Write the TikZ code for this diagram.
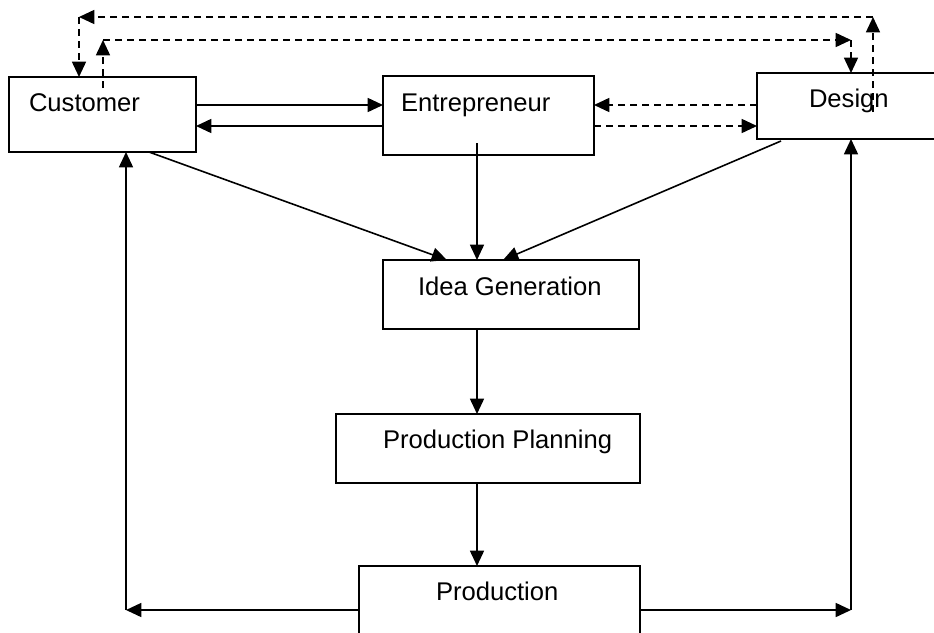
\documentclass[tikz,border=0pt]{standalone}
\usepackage{fontspec}
\setmainfont{Liberation Sans}
\usetikzlibrary{arrows.meta,calc}
\begin{document}
\begin{tikzpicture}[x=0.75pt,y=-0.75pt,
  box/.style 2 args={draw,line width=1.2pt,inner sep=0pt,outer sep=0pt,
    minimum width=#1,minimum height=#2},
  txt/.style={anchor=base west,inner sep=0pt,outer sep=0pt,
    font=\fontsize{19.2pt}{23pt}\selectfont},
  arr/.style={line width=1.2pt,-{Triangle[length=11.5pt,width=10.5pt]}},
  dsh/.style={dash pattern=on 5.5pt off 3.5pt}]
  \useasboundingbox (0,0) rectangle (934,632);
  \clip (0,0) rectangle (934,632);

  % boxes
  \node[box={140.25pt}{56.25pt}] (cust) at (102.5,114.5) {};
  \node[box={158.25pt}{59.25pt}] (ent)  at (488.5,115.5) {};
  \node[box={141pt}{49.5pt}]     (des)  at (851,106) {};
  \node[box={192pt}{51.75pt}]    (idea) at (511,294.5) {};
  \node[box={228pt}{51.75pt}]    (plan) at (488,448.5) {};
  \node[box={210.75pt}{70.5pt}]  (prod) at (499.5,613) {};

  % labels
  \node[txt] (custT) at (29,111)    {Customer};
  \node[txt] (entT)  at (401,111.5) {Entrepreneur};
  \node[txt] (desT)  at (809,107)   {Design};
  \node[txt] (ideaT) at (418,295)   {Idea Generation};
  \node[txt] (planT) at (383,448)   {Production Planning};
  \node[txt] (prodT) at (436,600)   {Production};

  % helper points for the routed connectors
  \coordinate (rowA) at (0,105);
  \coordinate (rowB) at (0,126);
  \coordinate (spine) at (477,0);
  \coordinate (base) at (0,610);
  \coordinate (desTap) at (873,112);
  \coordinate (outNE) at (873,17);
  \coordinate (outNW) at (79,17);
  \coordinate (custTap) at (103,88);
  \coordinate (inNW) at (103,40);
  \coordinate (inNE) at (851,40);
  \coordinate (entTap) at (477,143);
  \coordinate (cL) at (126,610);
  \coordinate (cR) at (851,610);

  % customer <-> entrepreneur
  \draw[arr] (cust.east |- rowA) -- (ent.west |- rowA);
  \draw[arr] (ent.west |- rowB) -- (cust.east |- rowB);
  % design <-> entrepreneur
  \draw[arr,dsh] (des.west |- rowA) -- (ent.east |- rowA);
  \draw[arr,dsh] (ent.east |- rowB) -- (des.west |- rowB);

  % outer loop: design -> customer
  \draw[arr,dsh] (desTap) -- (outNE);
  \draw[arr,dsh] (outNE) -- (outNW);
  \draw[arr,dsh] (outNW) -- (outNW |- cust.north);
  % inner loop: customer -> design
  \draw[arr,dsh] (custTap) -- (inNW);
  \draw[arr,dsh] (inNW) -- (inNE);
  \draw[arr,dsh] (inNE) -- (inNE |- des.north);

  % inputs to idea generation
  \draw[arr] ($(cust.south west)+(140,0)$) -- ($(idea.north west)+(64,0)$);
  \draw[arr] (entTap) -- (entTap |- idea.north);
  \draw[arr] ($(des.south west)+(24,2)$) -- ($(idea.north west)+(120,0)$);

  % main chain
  \draw[arr] (spine |- idea.south) -- (spine |- plan.north);
  \draw[arr] (spine |- plan.south) -- (spine |- prod.north);

  % feedback from production
  \draw[arr] (prod.west |- base) -- (cL);
  \draw[arr] (cL) -- (cL |- cust.south);
  \draw[arr] (prod.east |- base) -- (cR);
  \draw[arr] (cR) -- (cR |- des.south);
\end{tikzpicture}
\end{document}
